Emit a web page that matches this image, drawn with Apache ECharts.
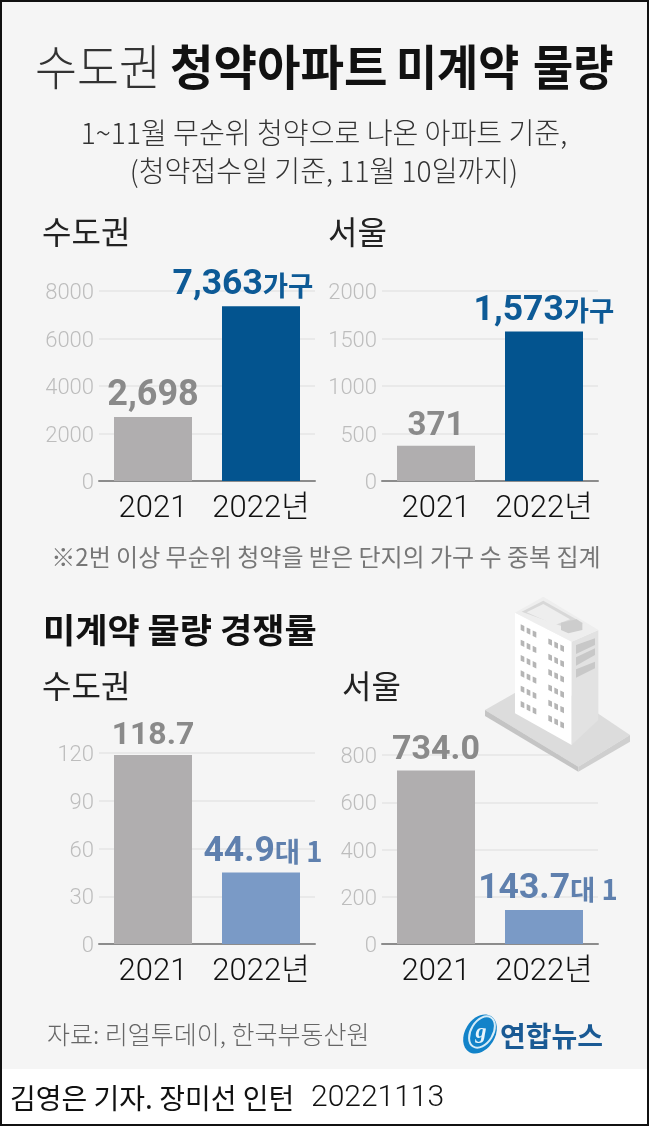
<!DOCTYPE html>
<html>
<head>
<meta charset="utf-8">
<style>html,body{margin:0;padding:0;background:#fff}#chart{width:650px;height:1128px}</style>
<script src="https://cdn.jsdelivr.net/npm/echarts@6/dist/echarts.min.js"></script>
</head>
<body>
<div id="chart"></div>
<script>
var years = ['2021', '2022년'];
// 무순위 청약 미계약 물량 (가구)
var metroUnits = [2698, 7363];
var seoulUnits = [371, 1573];
// 미계약 물량 경쟁률 (대 1)
var metroRates = [118.7, 44.9];
var seoulRates = [734.0, 143.7];
var metroUnitTicks = [0, 8000, 2000];
var seoulUnitTicks = [0, 2000, 500];
var metroRateTicks = [0, 120, 30];
var seoulRateTicks = [0, 800, 200];

var KR = '"Noto Sans CJK KR"';
var NUM = 'Roboto, "Noto Sans CJK KR"';
var GREY_BAR = '#b0aeaf', GREY_TXT = '#8a8a8a';
var DARK_BAR = '#03548f', DARK_TXT = '#0d5a96';
var LIGHT_BAR = '#7a9ac6', LIGHT_TXT = '#5f80ae';

var chart = echarts.init(document.getElementById('chart'));

// 차트 4개 위치
var grids = [
	{left: 99, width: 216, top: 291, height: 190, outerBoundsMode: 'none'},
	{left: 382, width: 216, top: 291, height: 190, outerBoundsMode: 'none'},
	{left: 99, width: 216, top: 753, height: 191, outerBoundsMode: 'none'},
	{left: 382, width: 216, top: 755, height: 189, outerBoundsMode: 'none'}
];

function makeXAxis(i) {
	return {
		type: 'category', gridIndex: i, data: years,
		axisTick: {show: false},
		axisLine: {lineStyle: {color: '#8c8c8c', width: 2}},
		axisLabel: {interval: 0, color: '#111', fontSize: 31, fontFamily: NUM, fontWeight: 300, margin: 13, hideOverlap: false}
	};
}
function makeYAxis(i, ticks) {
	return {
		type: 'value', gridIndex: i, min: ticks[0], max: ticks[1], interval: ticks[2],
		axisLine: {show: false}, axisTick: {show: false},
		splitLine: {lineStyle: {color: '#e4e4e4', width: 1.5}},
		axisLabel: {
			color: '#bdbdbd', fontSize: 22, fontFamily: NUM, fontWeight: 300, margin: 5,
			verticalAlign: 'top', lineHeight: 5,
			formatter: function (v) { return String(v); }
		}
	};
}
function makeSeries(i, values, color2, txt2, labels, unit, offset, greySize) {
	return {
		type: 'bar', xAxisIndex: i, yAxisIndex: i, barWidth: 78,
		data: [
			{value: values[0], itemStyle: {color: GREY_BAR},
				label: {formatter: '{g|' + labels[0] + '}'}},
			{value: values[1], itemStyle: {color: color2},
				label: {formatter: '{v|' + labels[1] + '}{u|' + unit + '}', offset: offset}}
		],
		label: {
			show: true, position: 'top', distance: 3,
			rich: {
				g: {color: GREY_TXT, fontSize: greySize, fontWeight: 'bold', fontFamily: NUM},
				v: {color: txt2, fontSize: 35.5, fontWeight: 'bold', fontFamily: NUM},
				u: {color: txt2, fontSize: 27.5, fontWeight: 'bold', fontFamily: KR}
			}
		}
	};
}
function fmtUnits(arr) { return arr.map(function (v) { return v.toLocaleString('en-US'); }); }
function fmtRates(arr) { return arr.map(function (v) { return v.toFixed(1); }); }

function txt(x, y, text, size, color, weight, align, sx) {
	return {
		type: 'text', x: x, y: y, z: 10, scaleX: sx || 1,
		style: {
			text: text, fill: color, fontSize: size, fontWeight: weight || 'normal',
			fontFamily: KR, textAlign: align || 'left', textVerticalAlign: 'middle'
		}
	};
}
function poly(pts, fill) {
	// 건물 확대 이미지 기준 좌표
	return {
		type: 'polygon', z: 5, silent: true,
		shape: {points: pts.map(function (p) { return [400 + p[0] / 3, 580 + p[1] / 3]; })},
		style: {fill: fill}
	};
}
function buildingParts() {
	var parts = [
		poly([[255, 390], [430, 290], [690, 465], [535, 560]], '#dcdcdc'),
		poly([[255, 390], [535, 560], [535, 575], [255, 408]], '#c4c4c4'),
		poly([[535, 560], [690, 465], [690, 485], [535, 575]], '#cfcfcf'),
		poly([[345, 98], [515, 185], [515, 495], [345, 400]], '#ffffff'),
		poly([[515, 185], [595, 150], [595, 420], [515, 495]], '#e2e2e2'),
		poly([[345, 98], [430, 50], [595, 150], [515, 185]], '#eeeeee'),
		poly([[365, 95], [430, 62], [550, 130], [490, 140]], '#d8d8d8'),
		poly([[380, 97], [430, 72], [510, 118], [465, 135]], '#eeeeee'),
		poly([[483, 128], [530, 118], [547, 130], [547, 150], [505, 160], [483, 150]], '#cdcdcd'),
		poly([[528, 195], [585, 175], [585, 195], [528, 222]], '#c8c8c8'),
		poly([[528, 232], [585, 205], [585, 225], [528, 257]], '#c8c8c8'),
		poly([[528, 268], [585, 245], [585, 265], [528, 293]], '#c8c8c8')
	];
	// 창문
	for (var r = 0; r < 6; r++) {
		for (var c = 0; c < 2; c++) {
			for (var w = 0; w < 3; w++) {
				var x = (c ? 445 : 362) + w * 18;
				var y = 133 + r * 46 + (x - 362) * 0.51;
				parts.push(poly([[x, y], [x + 11, y + 5], [x + 11, y + 22], [x, y + 17]], '#b5b5b5'));
			}
		}
	}
	return parts;
}

var option = {
	animation: false,
	backgroundColor: '#ffffff',
	grid: grids,
	xAxis: [makeXAxis(0), makeXAxis(1), makeXAxis(2), makeXAxis(3)],
	yAxis: [makeYAxis(0, metroUnitTicks), makeYAxis(1, seoulUnitTicks), makeYAxis(2, metroRateTicks), makeYAxis(3, seoulRateTicks)],
	series: [
		makeSeries(0, metroUnits, DARK_BAR, DARK_TXT, fmtUnits(metroUnits), '가구', [-18, 0], 36),
		makeSeries(1, seoulUnits, DARK_BAR, DARK_TXT, fmtUnits(seoulUnits), '가구', [0, 0], 33),
		makeSeries(2, metroRates, LIGHT_BAR, LIGHT_TXT, fmtRates(metroRates), '대 1', [2, 0], 32),
		makeSeries(3, seoulRates, LIGHT_BAR, LIGHT_TXT, fmtRates(seoulRates), '대 1', [4, 0], 34)
	],
	graphic: {
		elements: [
			{type: 'rect', z: -10, shape: {x: 1, y: 1, width: 647, height: 1068}, style: {fill: '#f5f5f5'}},
			{type: 'rect', z: 20, shape: {x: 1, y: 1, width: 647, height: 1124}, style: {fill: 'none', stroke: '#111', lineWidth: 2}},
			txt(35, 67, '수도권', 48, '#333', 300, 'left', 0.95),
			txt(170, 67, '청약아파트', 48, '#111', 'bold', 'left', 0.985),
			txt(396, 67, '미계약', 48, '#111', 'bold', 'left', 0.93),
			txt(533, 67, '물량', 48, '#111', 'bold', 'left', 0.91),
			txt(324, 133, '1~11월 무순위 청약으로 나온 아파트 기준,', 29, '#333', 300, 'center', 0.97),
			txt(324, 171, '(청약접수일 기준, 11월 10일까지)', 29, '#333', 300, 'center', 0.97),
			txt(42, 232, '수도권', 32, '#222'),
			txt(328, 232, '서울', 32, '#222'),
			txt(326, 557, '※2번 이상 무순위 청약을 받은 단지의 가구 수 중복 집계', 24, '#777', 'normal', 'center'),
			txt(43, 630, '미계약 물량 경쟁률', 34, '#111', 'bold', 'left', 1.03),
			txt(42, 686, '수도권', 32, '#222'),
			txt(342, 686, '서울', 32, '#222'),
			txt(47, 1034, '자료: 리얼투데이, 한국부동산원', 25, '#666', 300),
			// 로고
			{type: 'ellipse', z: 6, rotation: -0.55, x: 480, y: 1034, shape: {cx: 0, cy: 0, rx: 15, ry: 21}, style: {fill: '#1283c9'}},
			{type: 'ellipse', z: 7, rotation: -0.55, x: 482, y: 1032, shape: {cx: 0, cy: 0, rx: 11, ry: 17}, style: {fill: 'none', stroke: '#d5ecf8', lineWidth: 2}},
			{type: 'text', z: 8, x: 481, y: 1032, style: {text: 'g', fill: '#e8f5fc', fontSize: 22, fontWeight: 'bold', fontStyle: 'italic', fontFamily: 'Liberation Serif', textAlign: 'center', textVerticalAlign: 'middle'}},
			txt(500, 1036, '연합뉴스', 28, '#1a5a94', 'bold'),
			txt(10, 1098, '김영은 기자. 장미선 인턴', 28, '#111', 'normal'),
			{type: 'text', z: 10, x: 311, y: 1098, style: {text: '20221113', fill: '#111', fontSize: 30, fontFamily: 'Roboto', fontWeight: 300, textVerticalAlign: 'middle'}}
		].concat(buildingParts())
	}
};
chart.setOption(option);
</script>
</body>
</html>
